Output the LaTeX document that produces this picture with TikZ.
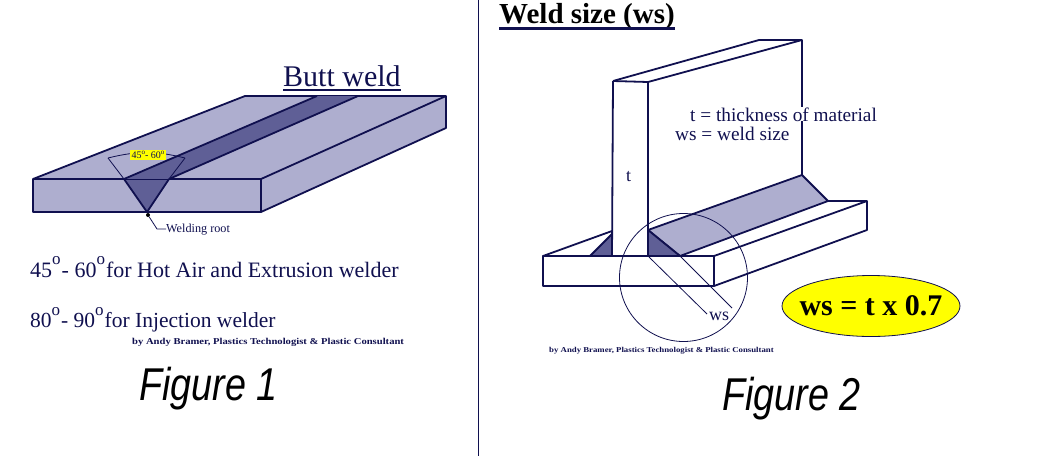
\documentclass[tikz,border=0pt]{standalone}
\usepackage{fontspec}
\usetikzlibrary{shapes.geometric}
\setmainfont{Liberation Serif}
\setsansfont{Liberation Sans}
\definecolor{inkblue}{HTML}{10104F}
\definecolor{plate}{HTML}{AEAECF}
\definecolor{groove}{HTML}{5F5F96}
\definecolor{memo}{HTML}{FFFF00}
\newcommand{\px}[1]{\fontsize{#1}{#1}\selectfont}
\newcommand{\dego}{\raisebox{.55em}{\px{17}o}}
\tikzset{
  outline/.style={draw=inkblue,line width=1.8pt,line join=round},
  thin line/.style={draw=inkblue,line width=.8pt},
  txt/.style={inner sep=0pt,text=inkblue,anchor=base west},
  credit/.style={txt,font=\px{9}\bfseries},
  figlabel/.style={inner sep=0pt,text=black,anchor=base west,font=\sffamily\itshape\px{46}},
}
\begin{document}
\begin{tikzpicture}[x=1pt,y=-1pt]
  \useasboundingbox (0,0) rectangle (1050,456);
  \coordinate (fa) at (33,179);
  \coordinate (fb) at (261,179);
  \coordinate (fc) at (261,212);
  \coordinate (fd) at (33,212);
  \coordinate (ba) at (245,96);
  \coordinate (bb) at (446,96);
  \coordinate (bc) at (446,128);
  \coordinate (ga) at (124,179);
  \coordinate (gb) at (169,179);
  \coordinate (gc) at (317,96);
  \coordinate (gd) at (358,96);
  \coordinate (root) at (147,212);
  \coordinate (vl) at (108,158);
  \coordinate (vr) at (185,158);
  % butt weld plate
  \draw[outline,fill=plate] (fa) -- (ba) -- (bb) -- (bc) -- (fc) -- (fd) -- cycle;
  \draw[outline] (fa) -- (fb) -- (bb);
  \draw[outline] (fb) -- (fc);
  \fill[groove] (ga) -- (gc) -- (gd) -- (gb) -- (root) -- cycle;
  \draw[outline] (ga) -- (gc);
  \draw[outline] (gb) -- (gd);
  \draw[outline] (ga) -- (root) -- (gb);
  \draw[thin line] (ga) -- (gb);
  \draw[thin line] (vl) -- (ga);
  \draw[thin line] (vr) -- (gb);
  \draw[thin line] (vl) to[bend left=14] (vr);
  \node[fill=memo,inner xsep=1.5pt,inner ysep=1.5pt,text=inkblue,font=\px{10}] (angle) at (148,155) {45\raisebox{.4em}{\px{7}o}- 60\raisebox{.4em}{\px{7}o}};
  \node[circle,fill=black,inner sep=0pt,minimum size=4pt] (rootdot) at (148,215) {};
  \node[txt,font=\px{12.2}] (rootlabel) at (166,232) {Welding root};
  \coordinate (bend) at (157,229);
  \draw[thin line] (rootdot) -- (bend) -- (rootlabel.west);
  \node[txt,font=\px{30}] (butt) at (283,86) {Butt weld};
  \draw[outline] (butt.base west |- 0,90) -- (butt.base east |- 0,90);
  \node[txt,font=\px{22}] (hotair) at (30,277) {45\dego\kern1pt- 60\dego\kern1pt for Hot Air and Extrusion welder};
  \node[txt,font=\px{21.5}] (inject) at (30,327) {80\dego\kern1pt- 90\dego\kern1pt for Injection welder};
  \node[credit] (creditone) at (132,344) {\scalebox{1.18}[1]{by Andy Bramer, Plastics Technologist \& Plastic Consultant}};
  \node[figlabel] (figone) at (139,400) {\scalebox{.82}[1]{Figure 1}};
  % divider
  \coordinate (dtop) at (478,0);
  \coordinate (dbot) at (478,456);
  \draw[inkblue,line width=1pt] (dtop) -- (dbot);
  % t joint
  \coordinate (ta) at (613,81);
  \coordinate (tb) at (648,82);
  \coordinate (tc) at (759,40);
  \coordinate (td) at (802,40);
  \coordinate (te) at (802,175);
  \coordinate (tf) at (612,256);
  \coordinate (tg) at (648,256);
  \coordinate (ua) at (543,256);
  \coordinate (ub) at (714,256);
  \coordinate (uc) at (714,286);
  \coordinate (ud) at (543,286);
  \coordinate (ue) at (867,201);
  \coordinate (uf) at (867,230);
  \coordinate (ug) at (612,231);
  \coordinate (wa) at (590,256);
  \coordinate (wb) at (612,234);
  \coordinate (wc) at (648,230);
  \coordinate (wd) at (680,256);
  \coordinate (we) at (828,201);
  \draw[outline] (ta) -- (tc) -- (td) -- (tb);
  \draw[outline] (ta) -- (tb);
  \draw[outline] (td) -- (te);
  \draw[outline] (ta) -- (tf);
  \draw[outline] (tb) -- (tg);
  \draw[outline] (ua) -- (ug);
  \draw[outline,fill=groove] (wa) -- (wb) -- (tf) -- cycle;
  \draw[outline,fill=plate] (wc) -- (te) -- (we) -- (wd) -- cycle;
  \draw[outline,fill=groove] (wc) -- (wd) -- (tg) -- cycle;
  \draw[outline] (we) -- (ue) -- (uf) -- (uc);
  \draw[outline] (ub) -- (ue);
  \draw[outline] (ua) -- (ub) -- (uc) -- (ud) -- cycle;
  \node[draw=inkblue,line width=.8pt,circle,minimum size=128pt,inner sep=0pt] (zone) at (683.5,277.5) {};
  \node[txt,font=\px{18}] (wslabel) at (709,320) {ws};
  \coordinate (ma) at (649,257);
  \coordinate (mb) at (707,314);
  \coordinate (mc) at (680,256);
  \coordinate (md) at (732,308);
  \draw[thin line] (ma) -- (mb);
  \draw[thin line] (mc) -- (md);
  \node[txt,font=\px{29}\bfseries,text=black] (weldsize) at (499,23) {Weld size (ws)};
  \draw[draw=inkblue,line width=2.6pt] (weldsize.base west |- 0,28.5) -- (weldsize.base east |- 0,28.5);
  \node[txt,font=\px{18}] (tmark) at (626,181) {t};
  \node[txt,font=\px{19.3},fill=white] (tnote) at (690,121) {t = thickness of material};
  \node[txt,font=\px{19.3}] (wsnote) at (675,140) {ws = weld size};
  \node[ellipse,draw=inkblue,line width=.8pt,fill=memo,minimum width=178pt,minimum height=61pt,inner sep=0pt] (formula) at (871,306) {};
  \node[inner sep=0pt,font=\px{30}\bfseries,text=black] (formulatext) at (871,306) {ws = t x 0.7};
  \node[credit,font=\px{7.5}\bfseries] (credittwo) at (549,352) {\scalebox{1.17}[1]{by Andy Bramer, Plastics Technologist \& Plastic Consultant}};
  \node[figlabel] (figtwo) at (722,410) {\scalebox{.82}[1]{Figure 2}};
\end{tikzpicture}
\end{document}
